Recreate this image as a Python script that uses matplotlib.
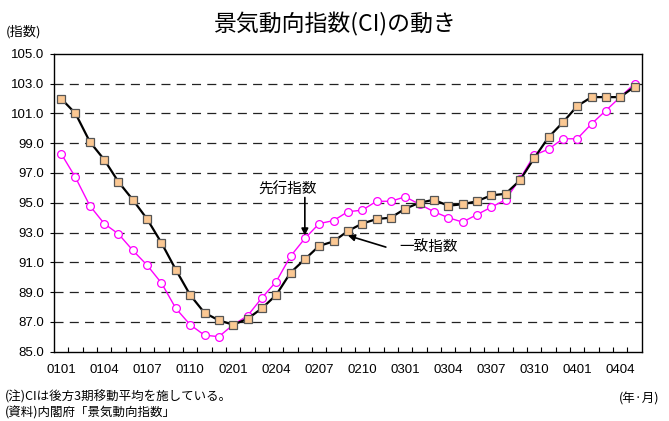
import matplotlib
matplotlib.use("Agg")
import matplotlib.pyplot as plt
from matplotlib import font_manager

plt.rcParams['lines.scale_dashes'] = False

names = {f.name for f in font_manager.fontManager.ttflist}
latin = 'Liberation Sans Narrow' if 'Liberation Sans Narrow' in names else 'Liberation Sans'
plt.rcParams['font.family'] = [latin, 'Noto Sans CJK JP', 'DejaVu Sans']
jp = ['Noto Sans CJK JP', 'DejaVu Sans']

# Monthly data, 2001/01 - 2004/05 (YYMM)
months = ['0101', '0102', '0103', '0104', '0105', '0106', '0107', '0108', '0109', '0110', '0111', '0112',
          '0201', '0202', '0203', '0204', '0205', '0206', '0207', '0208', '0209', '0210', '0211', '0212',
          '0301', '0302', '0303', '0304', '0305', '0306', '0307', '0308', '0309', '0310', '0311', '0312',
          '0401', '0402', '0403', '0404', '0405']

# Coincident index (CI, 3-month backward moving average)
coincident = [102.0, 101.0, 99.1, 97.9, 96.4, 95.2, 93.9, 92.3, 90.5, 88.8, 87.6, 87.1,
              86.8, 87.2, 87.9, 88.8, 90.3, 91.2, 92.1, 92.4, 93.1, 93.6, 93.9, 94.0,
              94.6, 95.0, 95.2, 94.8, 94.9, 95.1, 95.5, 95.6, 96.5, 98.0, 99.4, 100.4,
              101.5, 102.1, 102.1, 102.1, 102.8]

# Leading index (CI, 3-month backward moving average)
leading = [98.3, 96.7, 94.8, 93.6, 92.9, 91.8, 90.8, 89.6, 87.9, 86.8, 86.1, 86.0,
           86.8, 87.4, 88.6, 89.7, 91.4, 92.6, 93.6, 93.8, 94.4, 94.5, 95.1, 95.1,
           95.4, 94.9, 94.4, 94.0, 93.7, 94.2, 94.7, 95.2, 96.6, 98.2, 98.6, 99.3,
           99.3, 100.3, 101.2, 102.1, 103.0]

tick_labels = ['0101', '0104', '0107', '0110', '0201', '0204', '0207', '0210',
               '0301', '0304', '0307', '0310', '0401', '0404']
y_ticks = [85.0, 87.0, 89.0, 91.0, 93.0, 95.0, 97.0, 99.0, 101.0, 103.0, 105.0]

fig = plt.figure(figsize=(6.69, 4.21), dpi=100)
ax = fig.add_axes([0.0807, 0.165, 0.8785, 0.7068])

x = list(range(len(months)))

for v in y_ticks[1:-1]:
    ax.axhline(v, color='#222222', lw=0.9, ls=(0, (6.5, 4.5)), zorder=1)

ax.plot(x, leading, color='#FF00FF', lw=1.0, marker='o', ms=5.6,
        mfc='white', mec='#FF00FF', mew=0.9, zorder=3)
ax.plot(x, coincident, color='black', lw=1.6, marker='s', ms=5.6,
        mfc='#FBC893', mec='#555555', mew=0.9, zorder=4)

ax.set_xlim(-0.5, len(months) - 0.5)
ax.set_ylim(85, 105)
ax.set_yticks(y_ticks)
ax.set_yticklabels([f'{v:.1f}' for v in y_ticks], fontsize=9.5)
ax.tick_params(axis='y', direction='out', length=3, width=0.8, pad=4)

tick_pos = [months.index(t) for t in tick_labels]
ax.set_xticks(tick_pos)
ax.set_xticklabels(tick_labels, fontsize=9.5)
ax.tick_params(axis='x', which='major', length=0, pad=9)
ax.set_xticks([i - 0.5 for i in range(1, len(months))], minor=True)
ax.tick_params(axis='x', which='minor', direction='in', length=3.5, width=0.8)

for s in ax.spines.values():
    s.set_linewidth(1.0)
    s.set_color('black')

# Series labels with pointer arrows
i_lead = months.index('0206')
ax.text(i_lead - 1.2, 95.85, '先行指数', fontsize=10.5, family=jp, ha='center', va='center')
ax.annotate('', xy=(i_lead, leading[i_lead] + 0.2), xytext=(i_lead, 95.35),
            arrowprops=dict(arrowstyle='-|>', color='black', lw=1.2,
                            mutation_scale=10, shrinkA=0, shrinkB=0), zorder=6)

i_co = months.index('0209')
ax.text(i_co + 5.6, 92.05, '一致指数', fontsize=10.5, family=jp, ha='center', va='center')
ax.annotate('', xy=(i_co, coincident[i_co] - 0.3), xytext=(i_co + 2.65, 92.02),
            arrowprops=dict(arrowstyle='-|>', color='black', lw=1.2,
                            mutation_scale=10, shrinkA=0, shrinkB=0), zorder=6)

fig.text(0.5, 0.943, '景気動向指数(CI)の動き', fontsize=16.5, family=jp, ha='center', va='center')
fig.text(0.008, 0.925, '(指数)', fontsize=9.5, family=jp, ha='left', va='center')
fig.text(0.008, 0.058, '(注)CIは後方3期移動平均を施している。', fontsize=9, family=jp, ha='left', va='center')
fig.text(0.008, 0.018, '(資料)内閣府「景気動向指数」', fontsize=9, family=jp, ha='left', va='center')
fig.text(0.985, 0.052, '(年·月)', fontsize=9, family=jp, ha='right', va='center')

fig.savefig('out.png', dpi=100)
